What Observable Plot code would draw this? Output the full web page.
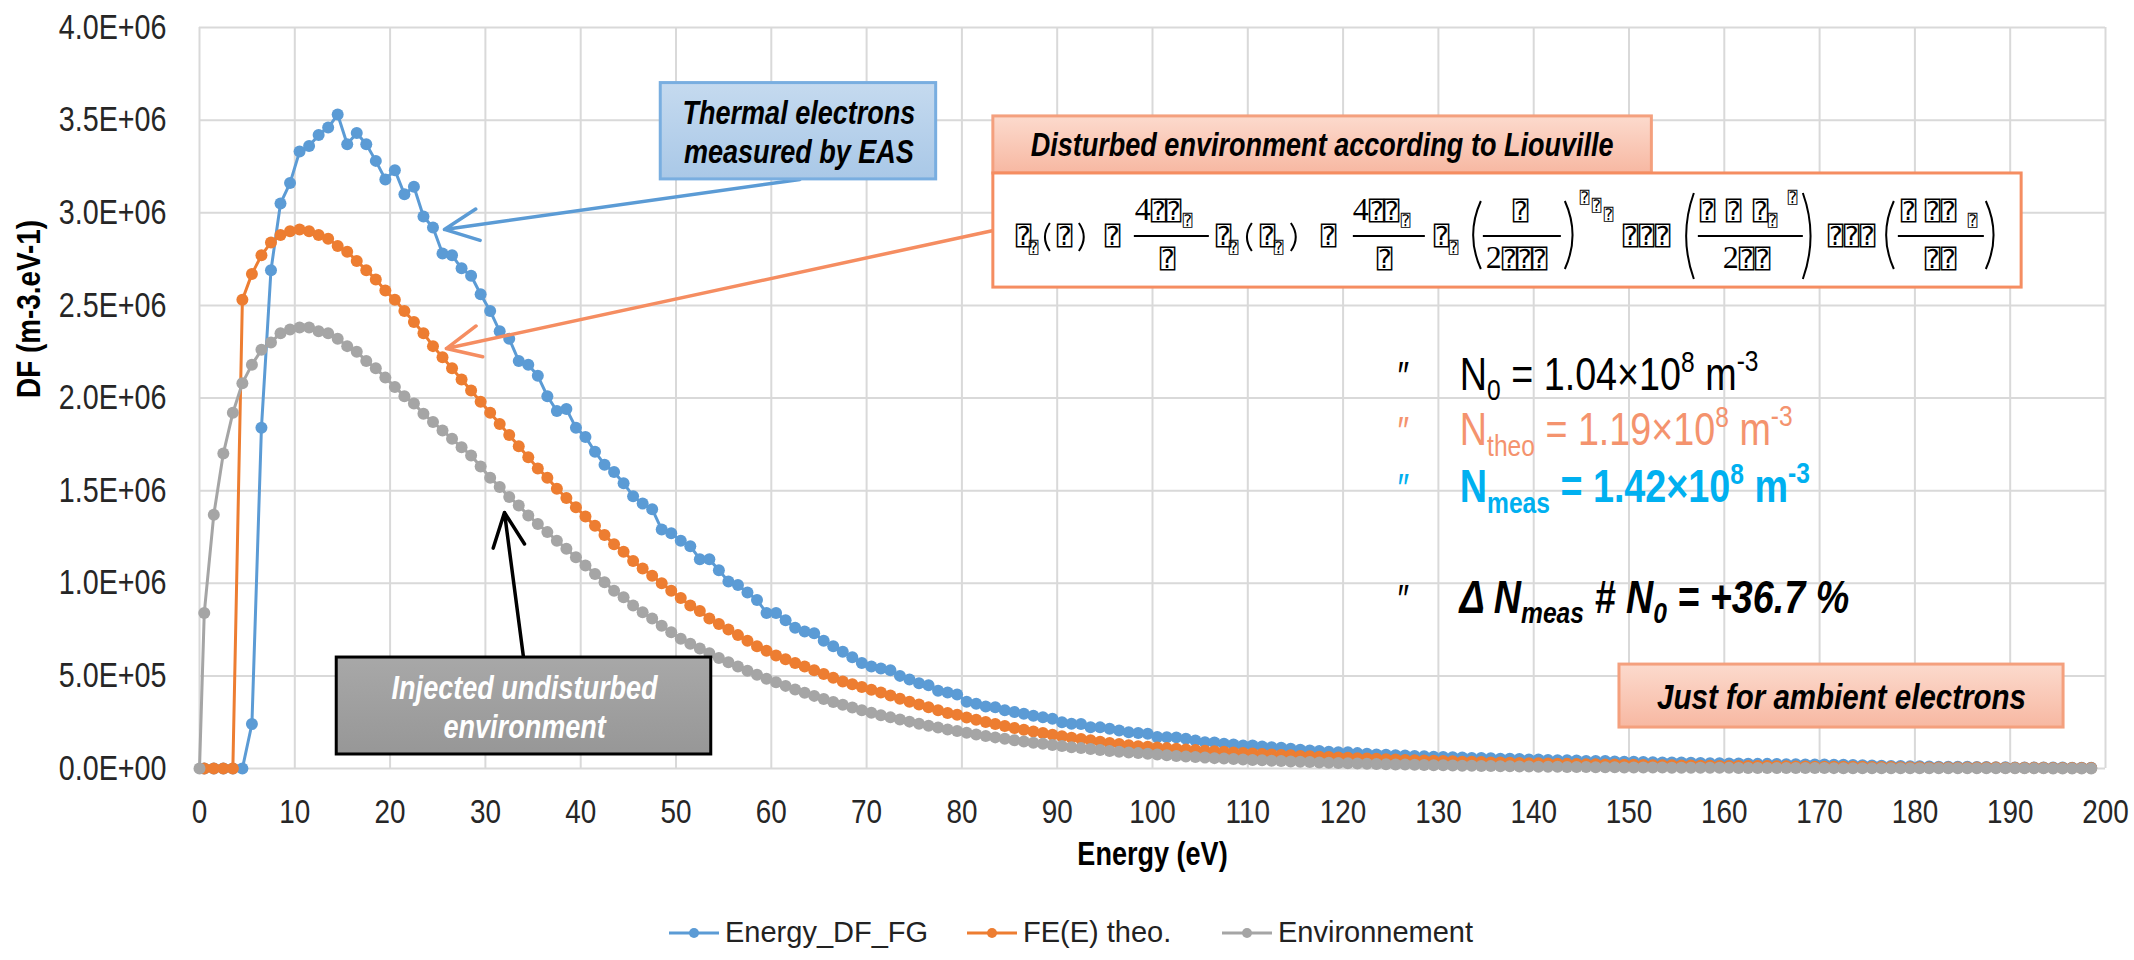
<!DOCTYPE html>
<html><head><meta charset="utf-8">
<script src="https://cdn.jsdelivr.net/npm/d3@7"></script>
<script src="https://cdn.jsdelivr.net/npm/@observablehq/plot@0.6"></script>
<style>
html,body{margin:0;padding:0;background:#fff;}
#wrap{position:relative;width:2134px;height:960px;overflow:hidden;}
#legend{position:absolute;left:0;top:905px;width:2134px;height:55px;font-family:'Liberation Sans',Arial,sans-serif;font-size:29px;color:#222;}
.li{position:absolute;top:0;height:55px;display:flex;align-items:center;}
.li svg{margin-right:6px;}
</style></head><body><div id="wrap"><div id="chart"></div><div id="legend"></div></div>
<script>
// ---------------- DATA (values in units of 1e6 m-3.eV-1) ----------------
const UNIT = 1e6;
const energyBins = [
0.5,1.5,2.5,3.5,4.5,5.5,6.5,7.5,8.5,9.5,10.5,11.5,12.5,13.5,14.5,15.5,16.5,17.5,18.5,19.5,
20.5,21.5,22.5,23.5,24.5,25.5,26.5,27.5,28.5,29.5,30.5,31.5,32.5,33.5,34.5,35.5,36.5,37.5,38.5,39.5,
40.5,41.5,42.5,43.5,44.5,45.5,46.5,47.5,48.5,49.5,50.5,51.5,52.5,53.5,54.5,55.5,56.5,57.5,58.5,59.5,
60.5,61.5,62.5,63.5,64.5,65.5,66.5,67.5,68.5,69.5,70.5,71.5,72.5,73.5,74.5,75.5,76.5,77.5,78.5,79.5,
80.5,81.5,82.5,83.5,84.5,85.5,86.5,87.5,88.5,89.5,90.5,91.5,92.5,93.5,94.5,95.5,96.5,97.5,98.5,99.5,
100.5,101.5,102.5,103.5,104.5,105.5,106.5,107.5,108.5,109.5,110.5,111.5,112.5,113.5,114.5,115.5,116.5,117.5,118.5,119.5,
120.5,121.5,122.5,123.5,124.5,125.5,126.5,127.5,128.5,129.5,130.5,131.5,132.5,133.5,134.5,135.5,136.5,137.5,138.5,139.5,
140.5,141.5,142.5,143.5,144.5,145.5,146.5,147.5,148.5,149.5,150.5,151.5,152.5,153.5,154.5,155.5,156.5,157.5,158.5,159.5,
160.5,161.5,162.5,163.5,164.5,165.5,166.5,167.5,168.5,169.5,170.5,171.5,172.5,173.5,174.5,175.5,176.5,177.5,178.5,179.5,
180.5,181.5,182.5,183.5,184.5,185.5,186.5,187.5,188.5,189.5,190.5,191.5,192.5,193.5,194.5,195.5,196.5,197.5,198.5];
const envEnergies = [0].concat(energyBins);

const energyDF_FG = [
0,0,0,0,0,0.24,1.84,2.69,3.05,3.16,
3.33,3.36,3.42,3.46,3.53,3.37,3.43,3.37,3.28,3.18,
3.23,3.10,3.14,2.98,2.92,2.78,2.77,2.70,2.66,2.56,
2.47,2.36,2.32,2.20,2.18,2.12,2.01,1.93,1.94,1.84,
1.79,1.71,1.64,1.60,1.54,1.47,1.43,1.40,1.29,1.27,
1.23,1.20,1.13,1.13,1.07,1.01,0.99,0.95,0.91,0.84,
0.84,0.80,0.76,0.74,0.73,0.69,0.66,0.63,0.60,0.57,
0.55,0.54,0.53,0.50,0.48,0.46,0.45,0.42,0.41,0.40,
0.36,0.35,0.335,0.33,0.315,0.305,0.295,0.285,0.277,0.268,
0.25,0.241,0.24,0.223,0.222,0.214,0.205,0.196,0.191,0.187,
0.17,0.169,0.168,0.16,0.151,0.142,0.141,0.133,0.13,0.124,
0.124,0.119,0.115,0.112,0.106,0.101,0.097,0.094,0.09,0.088,
0.088,0.083,0.079,0.076,0.074,0.072,0.07,0.068,0.066,0.064,
0.062,0.061,0.059,0.057,0.057,0.055,0.053,0.053,0.051,0.049,
0.048,0.046,0.045,0.044,0.043,0.041,0.04,0.04,0.038,0.037,
0.036,0.035,0.034,0.033,0.032,0.032,0.031,0.03,0.029,0.028,
0.027,0.027,0.026,0.025,0.025,0.024,0.023,0.023,0.022,0.021,
0.021,0.02,0.02,0.019,0.018,0.016,0.015,0.014,0.013,0.012,
0.012,0.011,0.01,0.01,0.009,0.009,0.008,0.008,0.007,0.007,
0.006,0.006,0.006,0.005,0.005,0.005,0.004,0.004,0.004];

const feTheo = [
0,0,0,0,2.53,2.67,2.77,2.84,2.88,2.90,
2.91,2.90,2.88,2.86,2.82,2.79,2.74,2.69,2.64,2.58,
2.53,2.47,2.41,2.35,2.28,2.22,2.16,2.10,2.04,1.98,
1.92,1.86,1.80,1.74,1.68,1.62,1.57,1.51,1.46,1.41,
1.36,1.31,1.26,1.21,1.17,1.12,1.08,1.04,1.00,0.96,
0.92,0.88,0.85,0.81,0.78,0.75,0.72,0.69,0.66,0.635,
0.61,0.59,0.57,0.55,0.53,0.51,0.49,0.47,0.455,0.44,
0.425,0.41,0.394,0.376,0.36,0.345,0.33,0.315,0.30,0.29,
0.275,0.263,0.251,0.24,0.229,0.219,0.209,0.2,0.191,0.182,
0.174,0.166,0.159,0.152,0.145,0.138,0.132,0.126,0.12,0.117,
0.114,0.11,0.107,0.103,0.1,0.096,0.093,0.09,0.087,0.084,
0.081,0.078,0.076,0.073,0.071,0.068,0.066,0.064,0.062,0.06,
0.058,0.056,0.054,0.052,0.05,0.048,0.046,0.045,0.043,0.042,
0.04,0.039,0.037,0.036,0.035,0.033,0.032,0.031,0.03,0.029,
0.028,0.027,0.026,0.025,0.024,0.023,0.023,0.022,0.021,0.02,
0.02,0.019,0.018,0.018,0.017,0.016,0.016,0.015,0.015,0.014,
0.014,0.013,0.013,0.013,0.013,0.012,0.012,0.011,0.011,0.01,
0.01,0.01,0.009,0.009,0.009,0.008,0.008,0.008,0.007,0.007,
0.007,0.006,0.006,0.006,0.006,0.005,0.005,0.005,0.005,0.004,
0.004,0.004,0.004,0.004,0.003,0.003,0.003,0.003,0.003];

const environnement = [0,
0.84,1.37,1.70,1.92,2.08,2.18,2.26,2.30,2.35,2.37,
2.38,2.38,2.36,2.35,2.32,2.28,2.25,2.20,2.16,2.11,
2.06,2.01,1.97,1.915,1.87,1.825,1.78,1.734,1.69,1.63,
1.57,1.52,1.465,1.42,1.366,1.32,1.276,1.23,1.186,1.14,
1.096,1.05,1.006,0.96,0.925,0.88,0.844,0.81,0.77,0.736,
0.70,0.673,0.648,0.622,0.597,0.573,0.55,0.528,0.506,0.485,
0.465,0.446,0.427,0.409,0.392,0.375,0.359,0.344,0.329,0.315,
0.301,0.288,0.276,0.264,0.253,0.242,0.231,0.221,0.211,0.202,
0.193,0.184,0.176,0.168,0.16,0.153,0.146,0.139,0.133,0.127,
0.121,0.115,0.11,0.105,0.1,0.095,0.091,0.087,0.083,0.079,
0.075,0.072,0.068,0.065,0.062,0.059,0.056,0.054,0.051,0.049,
0.046,0.044,0.042,0.04,0.038,0.036,0.035,0.033,0.031,0.03,
0.028,0.027,0.026,0.024,0.023,0.022,0.021,0.02,0.019,0.018,
0.017,0.016,0.015,0.015,0.014,0.013,0.012,0.012,0.011,0.011,
0.01,0.0095,0.009,0.0085,0.008,0.0076,0.0072,0.0068,0.0064,0.006,
0.0057,0.0054,0.0051,0.0048,0.0046,0.0044,0.0042,0.004,0.0038,0.0036,
0.0034,0.0032,0.003,0.0029,0.0028,0.0026,0.0025,0.0024,0.0023,0.0022,
0.0021,0.002,0.0019,0.0018,0.0017,0.0016,0.0015,0.0015,0.0014,0.0013,
0.0012,0.0012,0.0011,0.0011,0.001,0.001,0.0009,0.0009,0.0008,0.0008,
0.0008,0.0007,0.0007,0.0007,0.0006,0.0006,0.0006,0.0005,0.0005];

const seriesNames = ["Energy_DF_FG", "FE(E) theo.", "Environnement"];
const xTickValues = [0,10,20,30,40,50,60,70,80,90,100,110,120,130,140,150,160,170,180,190,200];
const yTickValues = [0,5e5,1e6,1.5e6,2e6,2.5e6,3e6,3.5e6,4e6];

// ---------------- STYLE ----------------
const COLORS = {"Energy_DF_FG":"#5B9BD5","FE(E) theo.":"#ED7D31","Environnement":"#A5A5A5"};
const SANS = "'Liberation Sans',Arial,sans-serif";
const CONDENSE = 0.82; // Arial Narrow-like width
const W = 2134, H = 905;

function sci(d){
  if (d === 0) return "0.0E+00";
  const e = Math.floor(Math.log10(d) + 1e-9);
  return (d / Math.pow(10, e)).toFixed(1) + "E+" + String(e).padStart(2, "0");
}
const toRows = (name, xs, vs) => xs.map((E, i) => ({series: name, E, v: vs[i] * UNIT}));
const blue = toRows(seriesNames[0], energyBins, energyDF_FG);
const orange = toRows(seriesNames[1], energyBins, feTheo);
const gray = toRows(seriesNames[2], envEnergies, environnement);

// annotation geometry (data coordinates)
const boxes = [
  {id:"gBlue", x1:48.4, x2:77.3, y1:3.18e6, y2:3.70e6, stroke:"#79AEE0"},
  {id:"gSalmon", x1:83.3, x2:152.4, y1:3.212e6, y2:3.52e6, stroke:"#F4A07E"},
  {id:"white", x1:83.3, x2:191.2, y1:2.596e6, y2:3.212e6, stroke:"#F58D61"},
  {id:"gSalmon", x1:149.0, x2:195.6, y1:0.221e6, y2:0.561e6, stroke:"#F4A07E"},
  {id:"gGray", x1:14.4, x2:53.7, y1:0.0756e6, y2:0.599e6, stroke:"#000"}
];
const boxTexts = [
  {x:62.9, y:3.536e6, t:"Thermal electrons", fill:"#000", s:33},
  {x:62.9, y:3.325e6, t:"measured by EAS", fill:"#000", s:33},
  {x:117.8, y:3.363e6, t:"Disturbed environment according to Liouville", fill:"#000", s:33},
  {x:172.3, y:0.383e6, t:"Just for ambient electrons", fill:"#000", s:36},
  {x:34.1, y:0.432e6, t:"Injected undisturbed", fill:"#fff", s:33},
  {x:34.1, y:0.221e6, t:"environment", fill:"#fff", s:33}
];
const arrows = [
  {x1:63.0, y1:3.18e6, x2:25.7, y2:2.91e6, stroke:"#5B9BD5"},
  {x1:83.3, y1:2.904e6, x2:25.9, y2:2.267e6, stroke:"#F58D61"},
  {x1:34.0, y1:0.599e6, x2:32.0, y2:1.382e6, stroke:"#000"}
];

const plot = Plot.plot({
  width: W, height: H,
  marginLeft: 199, marginRight: 29, marginTop: 27, marginBottom: H - 768,
  style: {fontFamily: SANS, background: "#fff", color: "#262626"},
  x: {domain: [0, 200], label: null},
  y: {domain: [0, 4e6], label: null},
  marks: [
    Plot.gridX(xTickValues, {stroke: "#D9D9D9", strokeOpacity: 1, strokeWidth: 2}),
    Plot.gridY(yTickValues, {stroke: "#D9D9D9", strokeOpacity: 1, strokeWidth: 2}),
    Plot.axisX({ticks: xTickValues, tickSize: 0, tickPadding: 30, fontSize: 34, tickFormat: d => String(d), label: null}),
    Plot.axisY({ticks: yTickValues, tickSize: 0, tickPadding: 33, fontSize: 35, tickFormat: sci, label: null}),
    Plot.text(["DF (m-3.eV-1)"], {frameAnchor: "left", dx: -170, rotate: -90, fontWeight: "bold", fontSize: 34, fill: "#000"}),
    Plot.text(["Energy (eV)"], {frameAnchor: "bottom", dy: 96, fontWeight: "bold", fontSize: 33, fill: "#000"}),
    Plot.line(blue, {x: "E", y: "v", stroke: COLORS[seriesNames[0]], strokeWidth: 3}),
    Plot.dot(blue, {x: "E", y: "v", r: 6, fill: COLORS[seriesNames[0]], stroke: "none"}),
    Plot.line(orange, {x: "E", y: "v", stroke: COLORS[seriesNames[1]], strokeWidth: 3}),
    Plot.dot(orange, {x: "E", y: "v", r: 6, fill: COLORS[seriesNames[1]], stroke: "none"}),
    Plot.line(gray, {x: "E", y: "v", stroke: COLORS[seriesNames[2]], strokeWidth: 3}),
    Plot.dot(gray, {x: "E", y: "v", r: 6, fill: COLORS[seriesNames[2]], stroke: "none"}),
    Plot.arrow(arrows, {x1: "x1", y1: "y1", x2: "x2", y2: "y2", stroke: d => d.stroke, strokeWidth: 3.5, headLength: 16, headAngle: 50}),
    Plot.rect(boxes, {x1: "x1", x2: "x2", y1: "y1", y2: "y2", fill: d => d.id === "white" ? "#fff" : `url(#${d.id})`, stroke: d => d.stroke, strokeWidth: 3}),
    Plot.text(boxTexts, {x: "x", y: "y", text: "t", fill: d => d.fill, fontSize: d => d.s, fontWeight: "bold", fontStyle: "italic"})
  ]
});
document.getElementById("chart").appendChild(plot);

const svg = d3.select(plot);
const defs = svg.insert("defs", ":first-child");
function grad(id, c1, c2){
  const g = defs.append("linearGradient").attr("id", id).attr("x1", 0).attr("y1", 0).attr("x2", 0).attr("y2", 1);
  g.append("stop").attr("offset", "0%").attr("stop-color", c1);
  g.append("stop").attr("offset", "100%").attr("stop-color", c2);
}
grad("gBlue", "#C5DAEF", "#A9C8E7");
grad("gSalmon", "#FCDACD", "#F7B8A2");
grad("gGray", "#A8A8A8", "#979797");

const xs = plot.scale("x"), ys = plot.scale("y");
const X = v => xs.apply(v), Y = v => ys.apply(v);

// --------- formula (glyphs missing in the original render, shown as ⍰) ---------
const fg = svg.append("g").attr("class", "formula").attr("text-anchor", "start")
  .attr("transform", `translate(${X(83.3)},${Y(3.212e6)})`);
const TOFU = "'DejaVu Sans Mono','DejaVu Sans',monospace";
function tofu(x, b, s = 26){ fg.append("text").attr("x", x).attr("y", b).attr("font-family", TOFU).attr("font-size", s).attr("fill", "#000").text("⍰"); }
function serif(x, b, t){ fg.append("text").attr("x", x).attr("y", b).attr("font-family", "'Liberation Serif','DejaVu Serif',serif").attr("font-size", 32).attr("fill", "#000").text(t); }
function bar(x1, x2){ fg.append("line").attr("x1", x1).attr("x2", x2).attr("y1", 63).attr("y2", 63).attr("stroke", "#000").attr("stroke-width", 2); }
function paren(x, top, bot, open){
  const w = (bot - top) > 60 ? 11 : 7;
  const d = open ? `M${x + w},${top} Q${x - w * 0.4},${(top + bot) / 2} ${x + w},${bot}` : `M${x},${top} Q${x + w * 1.4},${(top + bot) / 2} ${x},${bot}`;
  fg.append("path").attr("d", d).attr("fill", "none").attr("stroke", "#000").attr("stroke-width", 2);
}
const M = 72, N = 47, D = 95, S = 80, NS = 53;
tofu(23, M); tofu(36, S, 16);
paren(50, 50, 78, true); tofu(64, M); paren(86, 50, 78, false);
tofu(112, M);
serif(142, N, "4"); tofu(158, N); tofu(173, N); tofu(190, NS, 16);
bar(141, 216); tofu(167, D);
tofu(223, M); tofu(236, S, 16);
paren(252, 50, 78, true); tofu(267, M); tofu(281, S, 16); paren(298, 50, 78, false);
tofu(328, M);
serif(360, N, "4"); tofu(376, N); tofu(391, N); tofu(408, NS, 16);
bar(360, 432); tofu(384, D);
tofu(441, M); tofu(456, S, 16);
paren(477, 28, 96, true);
tofu(520, N); bar(490, 568);
serif(493, D, "2"); tofu(509, D); tofu(524, D); tofu(539, D);
paren(572, 28, 96, false);
tofu(587, 30, 16); tofu(599, 38, 16); tofu(611, 47, 16);
tofu(630, M); tofu(646, M); tofu(662, M);
paren(690, 20, 106, true);
tofu(707, N); tofu(733, N); tofu(760, N); tofu(775, NS, 16); tofu(795, 30, 16);
bar(705, 810);
serif(730, D, "2"); tofu(746, D); tofu(762, D);
paren(810, 20, 106, false);
tofu(835, M); tofu(851, M); tofu(867, M);
paren(890, 28, 96, true);
tofu(908, N); tofu(932, N); tofu(948, N); tofu(975, NS, 16);
bar(905, 991);
tofu(932, D); tofu(948, D);
paren(993, 28, 96, false);

// --------- densities block ---------
const sg = svg.append("g").attr("font-family", SANS).attr("text-anchor", "start");
function rich(x, y, parts, opts){
  const t = sg.append("text").attr("x", X(x)).attr("y", Y(y)).attr("fill", opts.fill)
    .attr("font-weight", opts.weight || "normal").attr("font-style", opts.style || "normal")
    .attr("xml:space", "preserve").style("white-space", "pre");
  for (const p of parts){
    t.append("tspan").attr("y", Y(y) + (p.dy || 0)).attr("font-size", p.s || 46).text(p.t);
  }
}
const bx = 125.6, tx = 132.3;
const rowsY = [2.04e6, 1.743e6, 1.436e6, 0.837e6];
const rowFill = ["#000", "#F4936E", "#00B0F0", "#000"];
rowsY.forEach((ry, i) => {
  sg.append("text").attr("x", X(bx)).attr("y", Y(ry)).attr("font-size", 40).attr("font-style", "italic").attr("fill", rowFill[i]).text("″");
});
rich(tx, rowsY[0], [{t:"N"},{t:"0",s:30,dy:10},{t:" = 1.04×10"},{t:"8",s:30,dy:-18},{t:" m"},{t:"-3",s:30,dy:-19}], {fill:rowFill[0]});
rich(tx, rowsY[1], [{t:"N"},{t:"theo",s:30,dy:11},{t:" = 1.19×10"},{t:"8",s:30,dy:-18},{t:" m"},{t:"-3",s:30,dy:-19}], {fill:rowFill[1]});
rich(tx, rowsY[2], [{t:"N"},{t:"meas",s:30,dy:11},{t:" = 1.42×10"},{t:"8",s:30,dy:-18},{t:" m"},{t:"-3",s:30,dy:-19}], {fill:rowFill[2], weight:"bold"});
rich(tx, rowsY[3], [{t:"Δ N"},{t:"meas",s:30,dy:10},{t:" # N"},{t:"0",s:30,dy:10},{t:" = +36.7 %"}], {fill:rowFill[3], weight:"bold", style:"italic"});

// --------- condense all chart text (Arial Narrow look), except formula ---------
plot.querySelectorAll("text").forEach(t => {
  if (t.closest(".formula")) return;
  const bb = t.getBBox();
  const anchor = getComputedStyle(t).textAnchor;
  const ax = anchor === "end" ? bb.x + bb.width : anchor === "middle" ? bb.x + bb.width / 2 : bb.x;
  const tr = t.getAttribute("transform") || "";
  t.setAttribute("transform", `${tr} translate(${ax},0) scale(${CONDENSE},1) translate(${-ax},0)`);
});

// --------- legend ---------
const legendPos = [669, 967, 1222];
const lg = d3.select("#legend");
seriesNames.forEach((name, i) => {
  const item = lg.append("div").attr("class", "li").style("left", legendPos[i] + "px");
  const s = item.append("svg").attr("width", 50).attr("height", 20);
  s.append("line").attr("x1", 0).attr("x2", 50).attr("y1", 10).attr("y2", 10).attr("stroke", COLORS[name]).attr("stroke-width", 3);
  s.append("circle").attr("cx", 25).attr("cy", 10).attr("r", 5).attr("fill", COLORS[name]);
  item.append("span").text(name);
});
</script></body></html>
